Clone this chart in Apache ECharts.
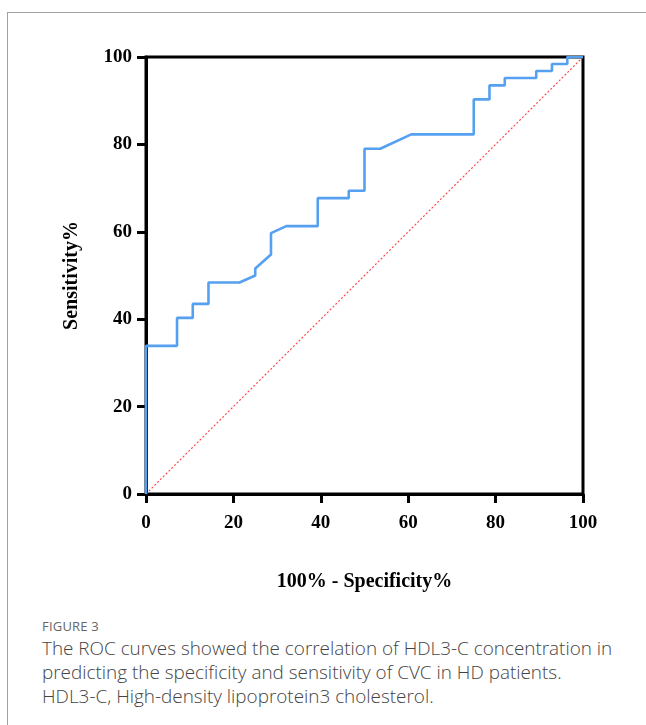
<!DOCTYPE html>
<html><head><meta charset="utf-8">
<script src="https://cdn.jsdelivr.net/npm/echarts@6/dist/echarts.min.js"></script>
<style>
html,body{margin:0;padding:0;background:#fff;width:646px;height:725px;overflow:hidden;}
#frame{position:absolute;left:7px;top:12px;width:700px;height:800px;border-left:1.5px solid #a0a0a0;border-top:1.5px solid #a0a0a0;}
#chart{position:absolute;left:0;top:0;width:646px;height:610px;}
#cap{position:absolute;left:42px;top:617px;width:620px;font-family:"Open Sans",sans-serif;color:#555;white-space:nowrap;}
#cap .fig{font-size:13px;color:#666;margin-bottom:1px;letter-spacing:0.2px;}
#cap .txt{font-size:18.9px;line-height:24px;font-weight:300;color:#444;}
</style></head>
<body>
<div id="frame"></div>
<div id="chart"></div>
<div id="cap"><div class="fig">FIGURE 3</div><div class="txt">The ROC curves showed the correlation of HDL3-C concentration in<br>predicting the specificity and sensitivity of CVC in HD patients.<br>HDL3-C, High-density lipoprotein3 cholesterol.</div></div>
<script>
// ROC curve: 100% - Specificity% (x) and Sensitivity% (y)
const fpr = [0,0,7.1,7.1,10.7,10.7,14.3,14.3,21.4,25,25,28.6,28.6,32.1,39.3,39.3,46.4,46.4,50,50,53.6,60.7,75,75,78.6,78.6,82.1,82.1,89.3,89.3,92.9,92.9,96.4,96.4,100];
const tpr = [0,33.9,33.9,40.3,40.3,43.5,43.5,48.4,48.4,50,51.6,54.8,59.7,61.3,61.3,67.7,67.7,69.4,69.4,79,79,82.3,82.3,90.3,90.3,93.5,93.5,95.2,95.2,96.8,96.8,98.4,98.4,100,100];
const refX = [0,100];
const refY = [0,100];
const xTicks = [0,20,40,60,80,100];
const yTicks = [0,20,40,60,80,100];

const chart = echarts.init(document.getElementById('chart'));
const font = '"Liberation Serif","Times New Roman",serif';
chart.setOption({
  animation:false,
  grid:{left:146,top:57,width:437,height:437,show:true,borderColor:'#000',borderWidth:3},
  xAxis:{type:'value',min:0,max:100,interval:20,
    axisLine:{show:true,lineStyle:{color:'#000',width:3}},
    axisTick:{show:true,length:9,lineStyle:{color:'#000',width:3}},
    splitLine:{show:false},
    axisLabel:{color:'#000',fontFamily:font,fontWeight:'bold',fontSize:19,margin:20,
      formatter:v=>xTicks.includes(v)?String(v):''},
    name:'100% - Specificity%',nameLocation:'middle',nameGap:78,
    nameTextStyle:{color:'#000',fontFamily:font,fontWeight:'bold',fontSize:20}},
  yAxis:{type:'value',min:0,max:100,interval:20,
    axisLine:{show:true,lineStyle:{color:'#000',width:3}},
    axisTick:{show:true,length:9,lineStyle:{color:'#000',width:3}},
    splitLine:{show:false},
    axisLabel:{color:'#000',fontFamily:font,fontWeight:'bold',fontSize:19,margin:14,
      formatter:v=>yTicks.includes(v)?String(v):''},
    name:'Sensitivity%',nameLocation:'middle',nameGap:64,
    nameTextStyle:{color:'#000',fontFamily:font,fontWeight:'bold',fontSize:20}},
  series:[
    {type:'line',data:refX.map((x,i)=>[x,refY[i]]),symbol:'none',
      lineStyle:{color:'#ff4d4d',width:1.2,type:[2,2]},z:2},
    {type:'line',data:fpr.map((x,i)=>[x,tpr[i]]),symbol:'none',
      lineStyle:{color:'#55a0f0',width:2.6},z:3}
  ]
});
</script>
</body></html>
